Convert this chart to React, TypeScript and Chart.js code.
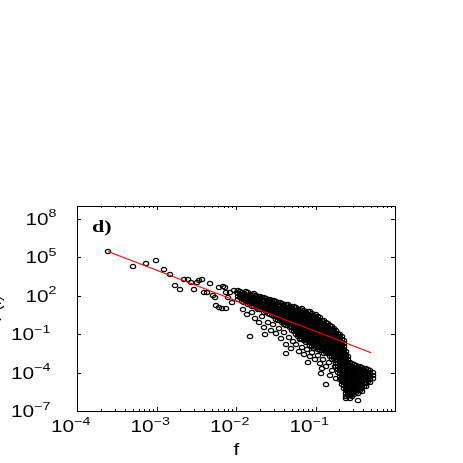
import { useEffect, useRef } from "react";
import { Chart, registerables } from "chart.js";

Chart.register(...registerables);

// Sparse (isolated) points, upper-left part: log10(f), log10(P)
const sparseLogF = [-3.61, -3.30, -3.13, -3.01, -2.91, -2.83, -2.77, -2.70, -2.66, -2.61, -2.57, -2.53, -2.49, -2.46, -2.43, -2.40, -2.37, -2.33, -2.29, -2.26, -2.25, -2.22, -2.18, -2.12, -2.21, -2.14, -2.12, -2.03, -2.05, -2.10, -2.16, -2.08, -1.99, -1.85, -1.74, -1.82];
const sparseLogP = [5.45, 4.26, 4.54, 4.75, 4.08, 3.63, 2.82, 2.49, 3.30, 3.29, 3.01, 2.49, 3.01, 3.19, 3.27, 2.28, 2.28, 2.93, 2.02, 1.82, 1.24, 1.11, 0.98, 0.98, 2.67, 2.67, 2.28, 2.41, 1.50, 1.89, 2.74, 2.28, 2.28, 1.89, 1.50, -1.18];

// Scattered points below the dense cloud
const lowerLogF = [-1.91, -1.86, -1.80, -1.76, -1.71, -1.67, -1.65, -1.60, -1.56, -1.53, -1.50, -1.46, -1.43, -1.40, -1.37, -1.33, -1.31, -1.28, -1.25, -1.21, -1.17, -1.14, -1.11, -1.07, -1.04, -1.01, -0.97, -0.94, -0.91, -0.87, -0.83, -0.79, -0.75, -0.82, -0.74, -0.92, -0.93, -0.87, -1.09, -1.37, -1.19, -1.64];
const lowerLogP = [0.93, 0.54, 0.69, 0.22, -0.09, 0.38, -0.48, -0.09, -0.71, -0.24, -0.94, -0.55, -1.33, -0.87, -1.80, -1.26, -2.11, -1.57, -1.80, -2.35, -2.04, -2.58, -2.19, -2.74, -2.42, -2.97, -2.66, -3.28, -2.97, -3.52, -3.20, -3.83, -3.52, -4.22, -4.45, -3.67, -4.06, -4.92, -3.20, -2.50, -1.41, -1.02];

// Dense cloud, read column by column: log10(f) of each column and the log10(P) values in it
const denseLogF = [-1.975, -1.925, -1.874, -1.824, -1.774, -1.723, -1.673, -1.623, -1.572, -1.522, -1.472, -1.421, -1.371, -1.321, -1.270, -1.220, -1.170, -1.119, -1.069, -1.019, -0.969, -0.918, -0.868, -0.818, -0.767, -0.717, -0.667, -0.616, -0.566, -0.516, -0.465, -0.415, -0.365, -0.314, -0.277];
const denseLogP: number[][] = [
  [2.41, 2.17, 1.94, 1.71],
  [2.25, 2.02, 1.78, 1.55],
  [2.30, 2.02, 1.78, 1.55],
  [2.10, 1.86, 1.63, 1.39],
  [2.18, 1.86, 1.63, 1.39, 1.16],
  [1.94, 1.63, 1.39, 1.16, 0.92],
  [1.86, 1.63, 1.39, 1.16, 0.92],
  [1.78, 1.47, 1.24, 1.00, 0.77],
  [1.71, 1.47, 1.24, 1.00, 0.77, 0.53],
  [1.63, 1.31, 1.08, 0.85, 0.61, 0.38],
  [1.47, 1.24, 1.00, 0.77, 0.53, 0.30, 0.07],
  [1.39, 1.08, 0.85, 0.61, 0.38, 0.14, -0.09],
  [1.31, 1.08, 0.85, 0.61, 0.38, 0.14, -0.09, -0.32],
  [1.16, 0.92, 0.69, 0.46, 0.22, -0.01, -0.25, -0.48],
  [1.12, 0.85, 0.61, 0.38, 0.14, -0.09, -0.32, -0.56, -0.79],
  [0.92, 0.69, 0.46, 0.22, -0.01, -0.25, -0.48, -0.71, -0.95, -1.18],
  [0.98, 0.69, 0.46, 0.22, -0.01, -0.25, -0.48, -0.71, -0.95, -1.18, -1.41],
  [0.69, 0.46, 0.22, -0.01, -0.25, -0.48, -0.71, -0.95, -1.18, -1.41, -1.65],
  [0.75, 0.46, 0.22, -0.01, -0.25, -0.48, -0.71, -0.95, -1.18, -1.41, -1.65, -1.88],
  [0.46, 0.22, -0.01, -0.25, -0.48, -0.71, -0.95, -1.18, -1.41, -1.65, -1.88, -2.11],
  [0.38, 0.14, -0.09, -0.32, -0.56, -0.79, -1.02, -1.26, -1.49, -1.73, -1.96, -2.19],
  [0.10, -0.17, -0.40, -0.64, -0.87, -1.10, -1.34, -1.57, -1.80, -2.04, -2.27],
  [-0.09, -0.32, -0.56, -0.79, -1.02, -1.26, -1.49, -1.73, -1.96, -2.19, -2.42],
  [-0.35, -0.64, -0.87, -1.10, -1.34, -1.57, -1.80, -2.04, -2.27, -2.50, -2.74],
  [-0.56, -0.79, -1.02, -1.26, -1.49, -1.73, -1.96, -2.19, -2.42, -2.66, -2.89],
  [-0.95, -1.18, -1.41, -1.65, -1.88, -2.11, -2.35, -2.58, -2.81, -3.05, -3.28, -3.52, -3.75, -3.98],
  [-1.18, -1.41, -1.65, -1.88, -2.11, -2.35, -2.58, -2.81, -3.05, -3.28, -3.52, -3.75, -3.98, -4.22, -4.45, -4.69, -4.92],
  [-2.35, -2.58, -2.81, -3.05, -3.28, -3.52, -3.75, -3.98, -4.22, -4.45, -4.69, -4.92, -5.15, -5.39, -5.62, -5.86, -6.01],
  [-3.20, -3.44, -3.67, -3.91, -4.14, -4.37, -4.61, -4.84, -5.08, -5.31, -5.54, -5.78, -6.01],
  [-3.36, -3.59, -3.83, -4.06, -4.30, -4.53, -4.76, -5.00, -5.23, -5.46, -5.70],
  [-3.52, -3.75, -3.98, -4.22, -4.45, -4.69, -4.92, -5.15, -5.39, -5.62, -6.17],
  [-3.59, -3.83, -4.06, -4.30, -4.53, -4.76, -5.00, -5.23, -5.46],
  [-3.67, -3.91, -4.14, -4.37, -4.61, -4.84, -5.08],
  [-3.83, -4.06, -4.30, -4.53, -4.76],
  [-3.98, -4.22, -4.45],
];

// Dense cloud core, the columns lying between the ones above
const coreLogF = [-1.950, -1.899, -1.849, -1.799, -1.748, -1.698, -1.648, -1.597, -1.547, -1.497, -1.446, -1.396, -1.346, -1.296, -1.245, -1.195, -1.145, -1.094, -1.044, -0.994, -0.943, -0.893, -0.843, -0.792, -0.742, -0.692, -0.641, -0.591, -0.541, -0.490, -0.440, -0.390, -0.339];
const coreLogP: number[][] = [
  [2.29, 2.06, 1.82],
  [2.17, 1.94, 1.71, 1.47],
  [2.21, 1.98, 1.74, 1.51, 1.31],
  [2.10, 1.86, 1.63, 1.39, 1.16],
  [2.02, 1.78, 1.55, 1.31, 1.08],
  [1.90, 1.67, 1.43, 1.20, 0.96],
  [1.82, 1.59, 1.35, 1.12, 0.89, 0.65],
  [1.74, 1.51, 1.28, 1.04, 0.81, 0.58],
  [1.63, 1.39, 1.16, 0.92, 0.69, 0.46],
  [1.55, 1.31, 1.08, 0.85, 0.61, 0.38, 0.14],
  [1.43, 1.20, 0.96, 0.73, 0.50, 0.26, 0.03],
  [1.35, 1.12, 0.89, 0.65, 0.42, 0.18, -0.05, -0.28],
  [1.28, 1.04, 0.81, 0.58, 0.34, 0.11, -0.12, -0.36],
  [1.16, 0.92, 0.69, 0.46, 0.22, -0.01, -0.25, -0.48, -0.71],
  [1.04, 0.81, 0.58, 0.34, 0.11, -0.12, -0.36, -0.59, -0.83, -1.06],
  [0.96, 0.73, 0.50, 0.26, 0.03, -0.20, -0.44, -0.67, -0.90, -1.14, -1.37],
  [0.85, 0.61, 0.38, 0.14, -0.09, -0.32, -0.56, -0.79, -1.02, -1.26, -1.49],
  [0.73, 0.50, 0.26, 0.03, -0.20, -0.44, -0.67, -0.90, -1.14, -1.37, -1.60],
  [0.61, 0.38, 0.14, -0.09, -0.32, -0.56, -0.79, -1.02, -1.26, -1.49, -1.73, -1.96],
  [0.50, 0.26, 0.03, -0.20, -0.44, -0.67, -0.90, -1.14, -1.37, -1.60, -1.84, -2.07],
  [0.30, 0.07, -0.17, -0.40, -0.64, -0.87, -1.10, -1.34, -1.57, -1.80, -2.04, -2.27],
  [0.03, -0.20, -0.44, -0.67, -0.90, -1.14, -1.37, -1.60, -1.84, -2.07, -2.31, -2.54],
  [-0.20, -0.44, -0.67, -0.90, -1.14, -1.37, -1.60, -1.84, -2.07, -2.31, -2.54],
  [-0.44, -0.67, -0.90, -1.14, -1.37, -1.60, -1.84, -2.07, -2.31, -2.54, -2.77, -3.01],
  [-0.71, -0.95, -1.18, -1.41, -1.65, -1.88, -2.11, -2.35, -2.58, -2.81, -3.05, -3.28, -3.52],
  [-1.02, -1.26, -1.49, -1.73, -1.96, -2.19, -2.42, -2.66, -2.89, -3.13, -3.36, -3.59, -3.83, -4.06, -4.30, -4.53],
  [-1.53, -1.76, -2.00, -2.23, -2.46, -2.70, -2.93, -3.17, -3.40, -3.63, -3.87, -4.10, -4.33, -4.57, -4.80, -5.04, -5.27],
  [-2.77, -3.01, -3.24, -3.48, -3.71, -3.94, -4.18, -4.41, -4.65, -4.88, -5.11, -5.35, -5.58, -5.81],
  [-3.32, -3.56, -3.79, -4.02, -4.26, -4.49, -4.73, -4.96, -5.19, -5.43, -5.66, -5.89],
  [-3.48, -3.71, -3.94, -4.18, -4.41, -4.65, -4.88, -5.11, -5.35, -5.58],
  [-3.56, -3.79, -4.02, -4.26, -4.49, -4.73, -4.96, -5.19, -5.43],
  [-3.71, -3.94, -4.18, -4.41, -4.65, -4.88, -5.11],
  [-3.79, -4.02, -4.26, -4.49, -4.73],
];

// Power-law fit line endpoints (log10)
const fitLogF = [-3.61, -0.30];
const fitLogP = [5.45, -2.45];

const xTickExps = [-4, -3, -2, -1];
const yTickExps = [-7, -4, -1, 2, 5, 8];
const xTitle = "f";
const yTitle = "P(f)";
const panelLabel = "d)";

const STRETCH = 1.3;

function stretchText(ctx: CanvasRenderingContext2D, text: string, x: number, y: number, font: string) {
  ctx.save();
  ctx.font = font;
  ctx.translate(x, y);
  ctx.scale(STRETCH, 1);
  ctx.fillText(text, 0, 0);
  ctx.restore();
}

function makeMarker() {
  const c = document.createElement("canvas");
  c.width = 8;
  c.height = 7;
  const g = c.getContext("2d")!;
  g.strokeStyle = "#000";
  g.lineWidth = 1.2;
  g.beginPath();
  g.ellipse(4, 3.5, 2.7, 2.1, 0, 0, Math.PI * 2);
  g.stroke();
  return c;
}

const framePlugin = {
  id: "frame",
  beforeDatasetsDraw(chart: any) {
    chart.ctx.imageSmoothingEnabled = false;
  },
  afterDatasetsDraw(chart: any) {
    const { ctx, chartArea: a, scales } = chart;
    ctx.imageSmoothingEnabled = true;
    const xs = scales.x;
    const ys = scales.y;
    ctx.save();
    ctx.strokeStyle = "#000";
    ctx.lineWidth = 1;
    ctx.strokeRect(Math.round(a.left) + 0.5, Math.round(a.top) + 0.5, Math.round(a.right - a.left), Math.round(a.bottom - a.top));
    ctx.beginPath();
    for (let e = -4; e <= 0; e++) {
      for (let m = 1; m <= 9; m++) {
        const v = m * Math.pow(10, e);
        if (v > xs.max * 1.0001) break;
        const px = Math.round(xs.getPixelForValue(v)) + 0.5;
        const len = m === 1 ? 4 : 2;
        ctx.moveTo(px, a.bottom);
        ctx.lineTo(px, a.bottom - len);
        ctx.moveTo(px, a.top);
        ctx.lineTo(px, a.top + len);
      }
    }
    for (const e of yTickExps) {
      const py = Math.round(ys.getPixelForValue(Math.pow(10, e))) + 0.5;
      ctx.moveTo(a.left, py);
      ctx.lineTo(a.left + 4, py);
      ctx.moveTo(a.right, py);
      ctx.lineTo(a.right - 4, py);
    }
    ctx.stroke();

    ctx.fillStyle = "#000";
    ctx.textAlign = "left";
    ctx.textBaseline = "alphabetic";
    const main = "16px 'Liberation Sans', Arial, sans-serif";
    const sup = "11px 'Liberation Sans', Arial, sans-serif";

    for (const e of yTickExps) {
      const py = ys.getPixelForValue(Math.pow(10, e));
      const s = e < 0 ? "\u2212" + Math.abs(e) : String(e);
      const x0 = 39.8 - 14.4 * s.length;
      stretchText(ctx, "10", x0, py + 6, main);
      stretchText(ctx, s, x0 + 23.1, py - 1.5, sup);
    }
    for (const e of xTickExps) {
      const px = xs.getPixelForValue(Math.pow(10, e));
      const s = e < 0 ? "\u2212" + Math.abs(e) : String(e);
      const x0 = px - 26;
      stretchText(ctx, "10", x0, a.bottom + 21, main);
      stretchText(ctx, s, x0 + 23.1, a.bottom + 13.5, sup);
    }

    // x title
    ctx.font = main;
    const wf = ctx.measureText(xTitle).width * STRETCH;
    stretchText(ctx, xTitle, (a.left + a.right) / 2 - wf / 2 + 0.5, 455, main);

    // y title (mostly off the left edge)
    ctx.save();
    ctx.font = main;
    ctx.textAlign = "center";
    ctx.translate(1, (a.top + a.bottom) / 2);
    ctx.rotate(-Math.PI / 2);
    ctx.fillText(yTitle, 0, 0);
    ctx.restore();

    // panel label
    stretchText(ctx, panelLabel, a.left + 15, a.top + 26, "bold 17px 'Liberation Serif', 'Times New Roman', serif");
    ctx.restore();
  },
};

export default function App() {
  const ref = useRef<HTMLCanvasElement | null>(null);
  useEffect(() => {
    if (!ref.current) return;
    const marker = makeMarker();
    const pair = (fs: number[], ps: number[]) => fs.map((e, i) => ({ x: Math.pow(10, e), y: Math.pow(10, ps[i]) }));
    const cols = (fs: number[], ps: number[][]) =>
      fs.flatMap((e, i) => ps[i].map((p) => ({ x: Math.pow(10, e), y: Math.pow(10, p) })));
    const points = [
      ...pair(sparseLogF, sparseLogP),
      ...pair(lowerLogF, lowerLogP),
      ...cols(denseLogF, denseLogP),
      ...cols(coreLogF, coreLogP),
    ];
    const fit = pair(fitLogF, fitLogP);
    const chart = new Chart(ref.current, {
      type: "scatter",
      data: {
        datasets: [
          {
            type: "line",
            data: fit,
            borderColor: "#ff0000",
            borderWidth: 1.2,
            pointRadius: 0,
            fill: false,
            showLine: true,
            order: 0,
          } as any,
          {
            data: points,
            pointStyle: marker as any,
            pointRadius: 3,
            borderColor: "#000",
            backgroundColor: "transparent",
            order: 1,
          },
        ],
      },
      options: {
        animation: false,
        responsive: false,
        events: [],
        layout: { padding: { left: 77, right: 68, top: 206, bottom: 52 } },
        plugins: { legend: { display: false }, tooltip: { enabled: false } },
        scales: {
          x: {
            type: "logarithmic",
            min: 1e-4,
            max: 1,
            ticks: { display: false },
            grid: { display: false, drawTicks: false },
            border: { display: false },
          },
          y: {
            type: "logarithmic",
            min: 1e-7,
            max: 1e9,
            ticks: { display: false },
            grid: { display: false, drawTicks: false },
            border: { display: false },
          },
        },
      },
      plugins: [framePlugin],
    });
    return () => chart.destroy();
  }, []);
  return (
    <div style={{ position: "absolute", left: 0, top: 0, width: 463, height: 463, background: "#fff" }}>
      <canvas ref={ref} width={463} height={463} />
    </div>
  );
}
